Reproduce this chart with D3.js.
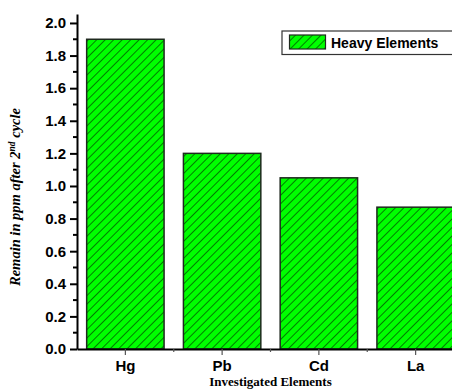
<!DOCTYPE html>
<html>
<head>
<meta charset="utf-8">
<script src="https://cdn.jsdelivr.net/npm/d3@7"></script>
<style>
  html, body { margin: 0; padding: 0; background: #fff; }
  svg { display: block; }
</style>
</head>
<body>
<svg id="chart" width="452" height="389"></svg>
<script>
// Residual concentration of each heavy element after the second cycle (ppm)
const elements = ["Hg", "Pb", "Cd", "La"];
const remaining = [1.90, 1.20, 1.05, 0.87];
const yTicks = [0.0, 0.2, 0.4, 0.6, 0.8, 1.0, 1.2, 1.4, 1.6, 1.8, 2.0];
const yMinorTicks = [0.1, 0.3, 0.5, 0.7, 0.9, 1.1, 1.3, 1.5, 1.7, 1.9];
const seriesName = "Heavy Elements";

const svg = d3.select("#chart");
const plot = { left: 77, right: 464, top: 14, bottom: 349 };

const x = d3.scaleBand()
  .domain(elements)
  .range([plot.left, plot.right])
  .paddingInner(0.2)
  .paddingOuter(0.1);

const y = d3.scaleLinear()
  .domain([0, 2.055])
  .range([plot.bottom, plot.top]);

// Diagonal hatch fill
const defs = svg.append("defs");
const pat = defs.append("pattern")
  .attr("id", "hatch")
  .attr("patternUnits", "userSpaceOnUse")
  .attr("width", 6).attr("height", 6)
  .attr("patternTransform", "rotate(45)");
pat.append("rect").attr("width", 6).attr("height", 6).attr("fill", "#00ff00");
pat.append("line")
  .attr("x1", 0).attr("y1", 0).attr("x2", 0).attr("y2", 6)
  .attr("stroke", "#000").attr("stroke-width", 1);

// Bars
svg.append("g")
  .selectAll("rect")
  .data(elements)
  .join("rect")
  .attr("x", d => x(d))
  .attr("y", (d, i) => y(remaining[i]))
  .attr("width", x.bandwidth())
  .attr("height", (d, i) => y(0) - y(remaining[i]))
  .attr("fill", "url(#hatch)")
  .attr("stroke", "#1f2a1f")
  .attr("stroke-width", 1.5);

// Y axis
const yAxis = svg.append("g")
  .attr("transform", `translate(${plot.left},0)`)
  .call(d3.axisLeft(y).tickValues(yTicks).tickSizeInner(7).tickSizeOuter(0).tickPadding(4)
    .tickFormat(d3.format(".1f")));
yAxis.select(".domain").attr("stroke-width", 2);
yAxis.selectAll(".tick line").attr("stroke-width", 2);
yAxis.selectAll("text")
  .attr("font-family", "Liberation Sans, Arial, sans-serif")
  .attr("font-weight", "bold")
  .attr("font-size", 15)
  .attr("fill", "#000");

yAxis.selectAll(".minor")
  .data(yMinorTicks)
  .join("line")
  .attr("class", "minor")
  .attr("x1", -4).attr("x2", 0)
  .attr("y1", d => y(d)).attr("y2", d => y(d))
  .attr("stroke", "#000").attr("stroke-width", 2);

// X axis
const xAxis = svg.append("g")
  .attr("transform", `translate(0,${plot.bottom})`)
  .call(d3.axisBottom(x).tickSizeInner(6).tickSizeOuter(0).tickPadding(5));
xAxis.select(".domain").attr("stroke-width", 2);
xAxis.selectAll(".tick line").attr("stroke", "#555").attr("stroke-width", 1.2);
xAxis.selectAll("text")
  .attr("font-family", "Liberation Sans, Arial, sans-serif")
  .attr("font-weight", "bold")
  .attr("font-size", 15)
  .attr("fill", "#000");

// Minor ticks at category boundaries
const step = x.step();
xAxis.selectAll(".minor")
  .data(elements.slice(1))
  .join("line")
  .attr("class", "minor")
  .attr("x1", d => x(d) + x.bandwidth() / 2 - step / 2)
  .attr("x2", d => x(d) + x.bandwidth() / 2 - step / 2)
  .attr("y1", 0).attr("y2", 3)
  .attr("stroke", "#555").attr("stroke-width", 1.2);

// Axis titles
svg.append("text")
  .attr("x", (plot.left + plot.right) / 2)
  .attr("y", 386)
  .attr("text-anchor", "middle")
  .attr("font-family", "Liberation Serif, Times New Roman, serif")
  .attr("font-weight", "bold")
  .attr("font-size", 13)
  .text("Investigated Elements");

const yTitle = svg.append("text")
  .attr("transform", "translate(20,197) rotate(-90)")
  .attr("text-anchor", "middle")
  .attr("font-family", "Liberation Serif, Times New Roman, serif")
  .attr("font-weight", "bold")
  .attr("font-style", "italic")
  .attr("font-size", 14.5);
yTitle.append("tspan").text("Remain in ppm after 2");
yTitle.append("tspan").attr("font-size", 9.5).attr("dy", -5.5).text("nd");
yTitle.append("tspan").attr("dy", 5.5).text(" cycle");

// Legend
const legend = svg.append("g").attr("transform", "translate(282,31)");
legend.append("rect")
  .attr("width", 172).attr("height", 23.5)
  .attr("fill", "#fff").attr("stroke", "#333").attr("stroke-width", 1.2);
legend.append("rect")
  .attr("x", 7.5).attr("y", 4).attr("width", 36).attr("height", 14)
  .attr("fill", "url(#hatch)").attr("stroke", "#1f2a1f").attr("stroke-width", 1.2);
legend.append("text")
  .attr("x", 49).attr("y", 17)
  .attr("font-family", "Liberation Sans, Arial, sans-serif")
  .attr("font-weight", "bold")
  .attr("font-size", 14)
  .text(seriesName);
</script>
</body>
</html>
